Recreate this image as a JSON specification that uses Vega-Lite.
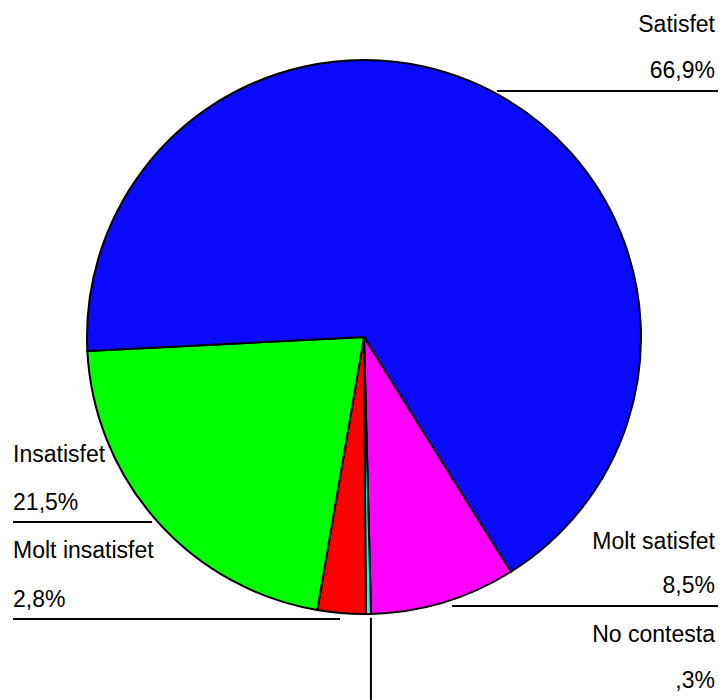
{
  "$schema": "https://vega.github.io/schema/vega-lite/v6.json",
  "width": 722,
  "height": 700,
  "padding": 0,
  "autosize": {"type": "none"},
  "background": "white",
  "config": {"view": {"stroke": null}},
  "datasets": {
    "slices": [
      {"categoria": "Molt satisfet", "pct": 8.5, "orden": 1, "cx": 0, "cy": 0},
      {"categoria": "No contesta", "pct": 0.3, "orden": 2, "cx": 0, "cy": 0},
      {"categoria": "Molt insatisfet", "pct": 2.8, "orden": 3, "cx": 0, "cy": 0},
      {"categoria": "Insatisfet", "pct": 21.5, "orden": 4, "cx": 0, "cy": 0},
      {"categoria": "Satisfet", "pct": 66.9, "orden": 5, "cx": 0, "cy": 0}
    ],
    "labels": [
      {"text": "Satisfet", "lx": 126.7, "ly": 110.1, "side": "right"},
      {"text": "66,9%", "lx": 126.7, "ly": 93.5, "side": "right"},
      {"text": "Molt satisfet", "lx": 126.7, "ly": -76.5, "side": "right"},
      {"text": "8,5%", "lx": 126.7, "ly": -92.4, "side": "right"},
      {"text": "No contesta", "lx": 126.7, "ly": -110.1, "side": "right"},
      {"text": ",3%", "lx": 126.7, "ly": -126.7, "side": "right"},
      {"text": "Insatisfet", "lx": -126.7, "ly": -45.1, "side": "left"},
      {"text": "21,5%", "lx": -126.7, "ly": -62.5, "side": "left"},
      {"text": "Molt insatisfet", "lx": -126.7, "ly": -79.8, "side": "left"},
      {"text": "2,8%", "lx": -126.7, "ly": -97.5, "side": "left"}
    ],
    "leaders": [
      {"x1": 48.0, "x2": 127.8, "y1": 88.8, "y2": 88.8},
      {"x1": -126.7, "x2": -76.5, "y1": -66.8, "y2": -66.8},
      {"x1": -126.7, "x2": -8.7, "y1": -101.8, "y2": -101.8},
      {"x1": 31.8, "x2": 127.8, "y1": -97.1, "y2": -97.1},
      {"x1": 2.5, "x2": 2.5, "y1": -101.4, "y2": -131.0}
    ]
  },
  "layer": [
    {
      "data": {"name": "slices"},
      "mark": {"type": "arc", "outerRadius": 277, "stroke": "black", "strokeWidth": 2},
      "encoding": {
        "x": {"field": "cx", "type": "quantitative", "scale": {"domain": [-131.41, 129.24], "nice": false, "zero": false}, "axis": null},
        "y": {"field": "cy", "type": "quantitative", "scale": {"domain": [-131.05, 121.66], "nice": false, "zero": false}, "axis": null},
        "theta": {"field": "pct", "type": "quantitative", "stack": true, "scale": {"range": [2.5822, 8.8654]}},
        "order": {"field": "orden", "type": "quantitative"},
        "color": {
          "field": "categoria",
          "type": "nominal",
          "scale": {
            "domain": ["Molt satisfet", "No contesta", "Molt insatisfet", "Insatisfet", "Satisfet"],
            "range": ["#ff00ff", "#00ffff", "#ff0000", "#00ff00", "#0a0aff"]
          },
          "legend": null
        }
      }
    },
    {
      "data": {"name": "leaders"},
      "mark": {"type": "rule", "color": "black", "strokeWidth": 2},
      "encoding": {
        "x": {"field": "x1", "type": "quantitative"},
        "x2": {"field": "x2"},
        "y": {"field": "y1", "type": "quantitative"},
        "y2": {"field": "y2"}
      }
    },
    {
      "data": {"name": "labels"},
      "transform": [{"filter": "datum.side === 'right'"}],
      "mark": {"type": "text", "align": "right", "baseline": "alphabetic", "font": "Liberation Sans", "fontSize": 23, "color": "black"},
      "encoding": {
        "x": {"field": "lx", "type": "quantitative"},
        "y": {"field": "ly", "type": "quantitative"},
        "text": {"field": "text"}
      }
    },
    {
      "data": {"name": "labels"},
      "transform": [{"filter": "datum.side === 'left'"}],
      "mark": {"type": "text", "align": "left", "baseline": "alphabetic", "font": "Liberation Sans", "fontSize": 23, "color": "black"},
      "encoding": {
        "x": {"field": "lx", "type": "quantitative"},
        "y": {"field": "ly", "type": "quantitative"},
        "text": {"field": "text"}
      }
    }
  ]
}
